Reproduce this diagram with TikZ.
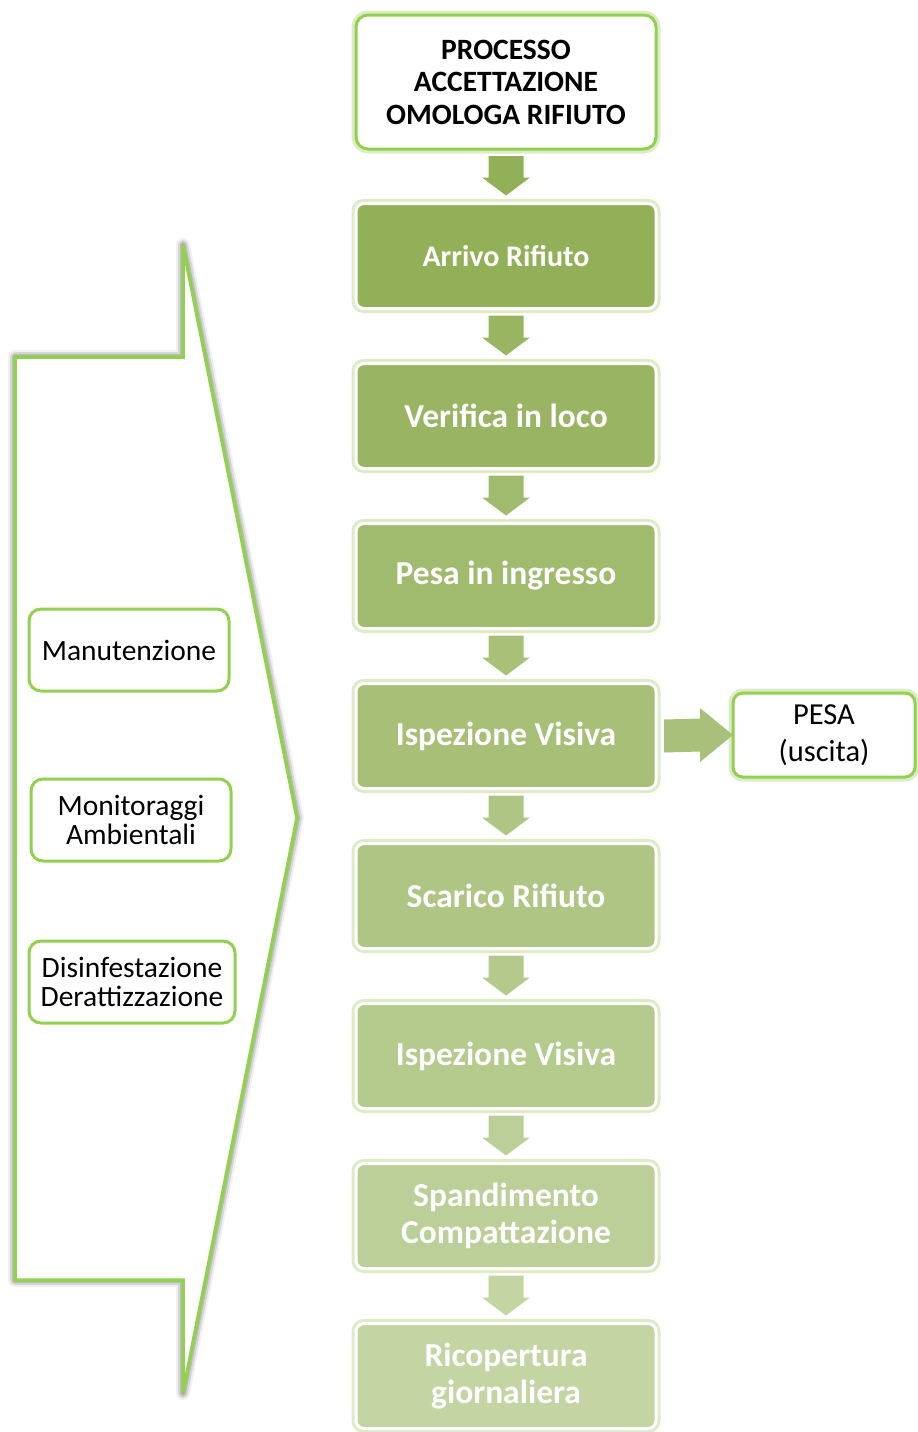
\documentclass[tikz,border=0pt]{standalone}
\usepackage{fontspec}
\setmainfont{Carlito}
\usetikzlibrary{calc,shadows.blur}
\definecolor{linegreen}{HTML}{92D050}
\definecolor{glowgreen}{HTML}{DDEBC6}
\definecolor{stepA}{HTML}{92B058}
\definecolor{stepB}{HTML}{C4D4A3}
\colorlet{stepone}{stepA}
\colorlet{steptwo}{stepB!14!stepA}
\colorlet{stepthree}{stepB!29!stepA}
\colorlet{stepfour}{stepB!43!stepA}
\colorlet{stepfive}{stepB!57!stepA}
\colorlet{stepsix}{stepB!71!stepA}
\colorlet{stepseven}{stepB!86!stepA}
\colorlet{stepeight}{stepB}
\colorlet{sidearrow}{stepB!45!stepA}
% block arrow between two stacked boxes
\newcommand\flowarrow[3]{%
  \fill[#1] ($(#2.south)+(-17.5,7)$) -- ($(#2.south)+(17.5,7)$)
    -- ($(#3.north)+(17.5,-26)$) -- ($(#3.north)+(24,-26)$)
    -- ($(#3.north)+(0,-8)$) -- ($(#3.north)+(-24,-26)$)
    -- ($(#3.north)+(-17.5,-26)$) -- cycle;}
\tikzset{
  glow/.style={preaction={draw=glowgreen, line width=9pt}},
  stepbox/.style={rectangle, rounded corners=8pt, draw=white, line width=3pt,
    outer sep=0pt, minimum width=300pt, minimum height=105pt, text=white,
    align=center, font=\bfseries\fontsize{33.5}{36.5}\selectfont, glow},
  topbox/.style={stepbox, fill=white, draw=linegreen, text=black, rounded corners=12pt,
    minimum height=134pt, font=\bfseries\fontsize{29.5}{32.5}\selectfont},
  sidebox/.style={rectangle, rounded corners=12pt, draw=linegreen, line width=3pt,
    fill=white, outer sep=0pt, minimum height=82pt, align=center,
    font=\fontsize{29.5}{29.5}\selectfont},
}
\begin{document}
\begin{tikzpicture}[x=1pt,y=-1pt]
  \useasboundingbox (0,0) rectangle (918,1432);

  % big arrow on the left
  \draw[linegreen, line width=3.5pt, fill=white,
    blur shadow={shadow xshift=0pt, shadow yshift=0pt, shadow blur radius=7pt, shadow opacity=85}]
    (183,245) -- (183,357) -- (15,357) -- (15,1280) -- (183,1280)
    -- (183,1393) -- (297,818) -- cycle;

  \node[sidebox, minimum width=200pt] (manut) at (129,650) {Manutenzione};
  \node[sidebox, minimum width=200pt] (monit) at (131,820) {Monitoraggi\\Ambientali};
  \node[sidebox, minimum width=206pt] (disinf) at (132,982) {Disinfestazione\\Derattizzazione};

  % main column
  \node[topbox] (omologa) at (506,82) {PROCESSO\\ACCETTAZIONE\\OMOLOGA RIFIUTO};
  \node[stepbox, fill=stepone, font=\bfseries\fontsize{30}{34}\selectfont] (arrivo) at (506,256) {Arrivo Rifiuto};
  \node[stepbox, fill=steptwo] (verifica) at (506,416) {Verifica in loco};
  \node[stepbox, fill=stepthree] (pesain) at (506,576) {Pesa in ingresso};
  \node[stepbox, fill=stepfour] (ispezA) at (506,736) {Ispezione Visiva};
  \node[stepbox, fill=stepfive] (scarico) at (506,896) {Scarico Rifiuto};
  \node[stepbox, fill=stepsix] (ispezB) at (506,1056) {Ispezione Visiva};
  \node[stepbox, fill=stepseven] (spand) at (506,1216) {Spandimento\\Compattazione};
  \node[stepbox, fill=stepeight] (ricop) at (506,1376) {Ricopertura\\giornaliera};

  \node[sidebox, glow, minimum width=182pt, minimum height=84pt, rounded corners=10pt,
    font=\fontsize{30.5}{37}\selectfont] (pesaout) at (824,735) {PESA\\(uscita)};

  \flowarrow{stepone}{omologa}{arrivo}
  \flowarrow{steptwo}{arrivo}{verifica}
  \flowarrow{stepthree}{verifica}{pesain}
  \flowarrow{stepfour}{pesain}{ispezA}
  \flowarrow{stepfive}{ispezA}{scarico}
  \flowarrow{stepsix}{scarico}{ispezB}
  \flowarrow{stepseven}{ispezB}{spand}
  \flowarrow{stepeight}{spand}{ricop}

  \fill[sidearrow] ($(ispezA.east)+(8,-16.5)$) -- ($(pesaout.west)+(-33,-16.5)$)
    -- ($(pesaout.west)+(-33,-27)$) -- (pesaout.west)
    -- ($(pesaout.west)+(-33,27)$) -- ($(pesaout.west)+(-33,16.5)$)
    -- ($(ispezA.east)+(8,16.5)$) -- cycle;
\end{tikzpicture}
\end{document}
